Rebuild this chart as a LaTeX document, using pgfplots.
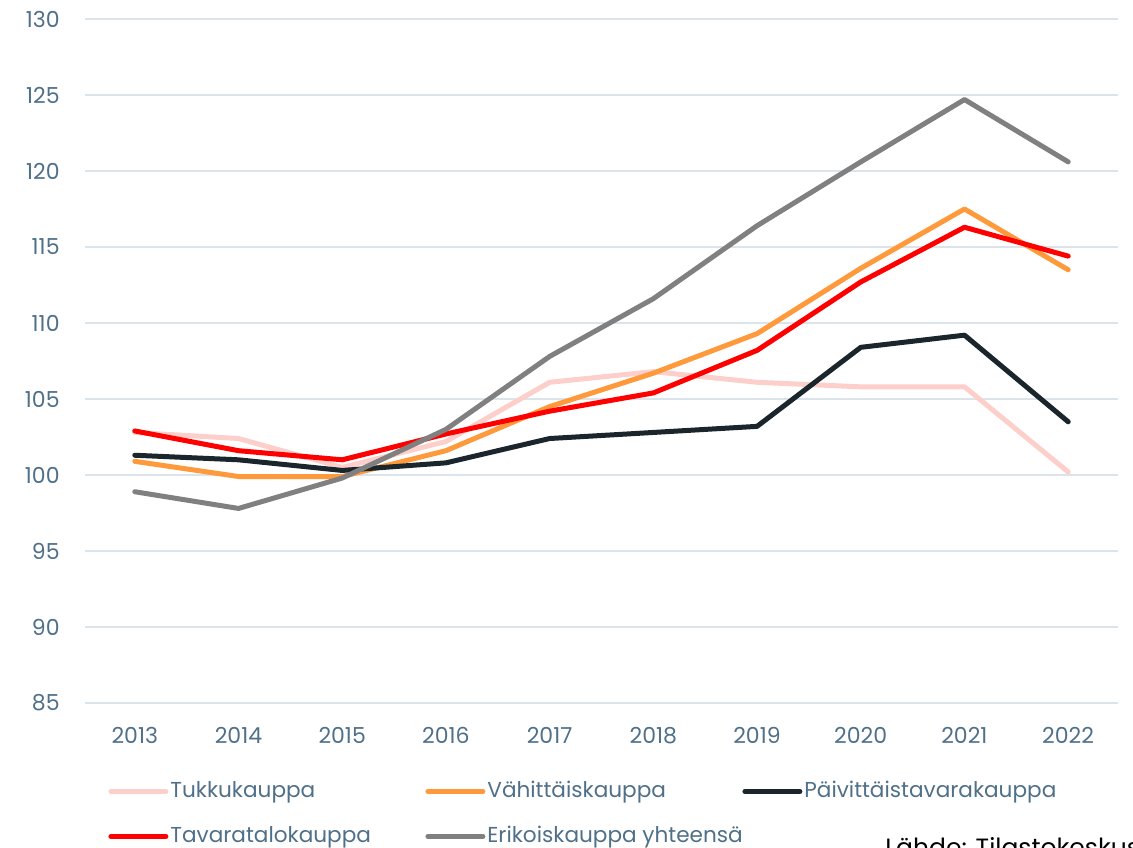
\documentclass[border=0pt]{standalone}
\usepackage{fontspec}
\setmainfont{Poppins}
\usepackage{pgfplots}
\pgfplotsset{compat=1.18}
\definecolor{txt}{HTML}{4F7088}
\definecolor{gridc}{HTML}{DCE4EB}
\definecolor{tukku}{HTML}{FCCFCB}
\definecolor{vahit}{HTML}{FF9A3C}
\definecolor{paiv}{HTML}{1B252C}
\definecolor{tava}{HTML}{FF0000}
\definecolor{erik}{HTML}{808080}

\begin{document}
\begin{tikzpicture}
\path[use as bounding box] (-42.5pt,-72pt) rectangle (524pt,351.5pt);
\begin{axis}[
    at={(0,0)}, anchor=south west,
    scale only axis,
    width=516.5pt, height=342pt,
    xmin=2012.52, xmax=2022.48,
    ymin=85, ymax=130,
    xtick={2013,...,2022},
    ytick={85,90,...,130},
    axis line style={draw=none},
    major tick length=0pt,
    ymajorgrids,
    grid style={gridc, line width=1pt},
    /pgf/number format/.cd, 1000 sep={}, assume math mode=true,
    /pgfplots/.cd,
    tick label style={font=\fontsize{11}{13}\selectfont, text=txt},
    yticklabel style={inner sep=0pt, xshift=-12.5pt},
    xticklabel style={inner sep=0pt, yshift=-12pt},
    every axis plot/.append style={line width=2.5pt, line join=round, line cap=round},
    legend columns=3,
    legend image code/.code={\draw[#1] (0pt,0pt) -- (27.5pt,0pt);},
    legend style={draw=none, fill=none, inner sep=0pt,
        at={(11.5pt,-38.5pt)}, anchor=north west,
        font=\fontsize{10.8}{13}\selectfont, text=txt,
        row sep=11.5pt, column sep=0pt,
        nodes={inner sep=0pt, text height=8.5pt, text depth=2.5pt},
        /tikz/every odd column/.append style={column sep=1pt}},
    legend cell align=left,
]
\addplot[tukku] coordinates {
    (2013,102.8) (2014,102.4) (2015,100.5) (2016,102.2) (2017,106.1)
    (2018,106.8) (2019,106.1) (2020,105.8) (2021,105.8) (2022,100.2)};
\addlegendentry{\makebox[127.5pt][l]{Tukkukauppa}}
\addplot[vahit] coordinates {
    (2013,100.9) (2014,99.9) (2015,99.9) (2016,101.6) (2017,104.5)
    (2018,106.7) (2019,109.3) (2020,113.6) (2021,117.5) (2022,113.5)};
\addlegendentry{\makebox[127.5pt][l]{Vähittäiskauppa}}
\addplot[paiv] coordinates {
    (2013,101.3) (2014,101.0) (2015,100.3) (2016,100.8) (2017,102.4)
    (2018,102.8) (2019,103.2) (2020,108.4) (2021,109.2) (2022,103.5)};
\addlegendentry{\makebox[127.5pt][l]{Päivittäistavarakauppa}}
\addplot[tava] coordinates {
    (2013,102.9) (2014,101.6) (2015,101.0) (2016,102.7) (2017,104.2)
    (2018,105.4) (2019,108.2) (2020,112.7) (2021,116.3) (2022,114.4)};
\addlegendentry{\makebox[127.5pt][l]{Tavaratalokauppa}}
\addplot[erik] coordinates {
    (2013,98.9) (2014,97.8) (2015,99.8) (2016,103.0) (2017,107.8)
    (2018,111.6) (2019,116.4) (2020,120.6) (2021,124.7) (2022,120.6)};
\addlegendentry{\makebox[127.5pt][l]{Erikoiskauppa yhteensä}}
\end{axis}
\node[anchor=north west, inner sep=0pt, font=\fontsize{12.5}{14}\selectfont, text=black] at (400pt,-67pt) {Lähde: Tilastokeskus};
\end{tikzpicture}
\end{document}
